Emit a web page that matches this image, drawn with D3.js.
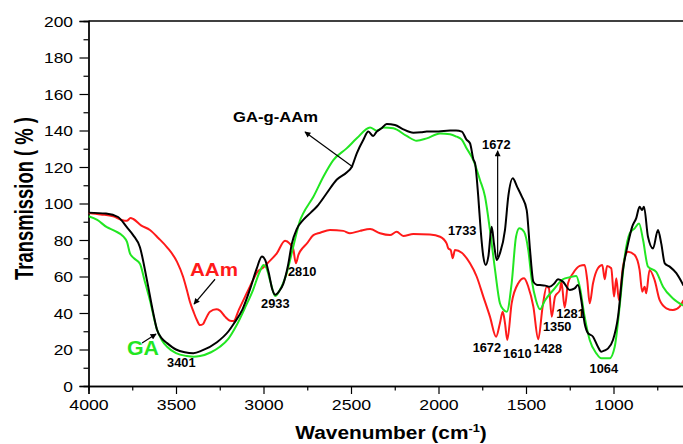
<!DOCTYPE html>
<html><head><meta charset="utf-8">
<script src="https://cdn.jsdelivr.net/npm/d3@7"></script>
<style>
html,body{margin:0;padding:0;background:#fff;}
svg{display:block;font-family:"Liberation Sans",Arial,sans-serif;}
</style></head>
<body>
<svg id="chart" width="683" height="444"></svg>
<script>
// ---------- data ----------
const xTicksMajor = [4000, 3500, 3000, 2500, 2000, 1500, 1000];
const xTicksMinor = [3750, 3250, 2750, 2250, 1750, 1250, 750];
const yTicksMajor = [0, 20, 40, 60, 80, 100, 120, 140, 160, 180, 200];
const yTicksMinor = [10, 30, 50, 70, 90, 110, 130, 150, 170, 190];

// GA-g-AAm (black)
const gaggWn = [4000,3900,3831,3781,3745,3706,3666,3630,3609,3580,3551,3500,3450,3401,3350,3266,3200,3171,3120,3077,3040,3009,2990,2970,2950,2933,2910,2887,2860,2838,2810,2773,2730,2696,2639,2582,2525,2496,2467,2430,2401,2373,2353,2325,2296,2249,2201,2144,2100,2067,2000,1934,1900,1867,1840,1820,1800,1791,1773,1759,1744,1730,1715,1696,1683,1667,1649,1620,1601,1576,1550,1525,1496,1477,1458,1440,1420,1390,1365,1340,1317,1289,1250,1222,1203,1184,1165,1146,1117,1089,1070,1050,1031,1003,974,946,917,893,870,851,837,826,803,774,746,727,707,679,641,600];
const gaggT  = [95,94.5,92.6,87,82.7,76,58,40,31,26,23.5,20,18.5,18,19.5,24,30,34,42,53,64,71,69,62,53,50,52,56,66,78,86,91,95,98.2,105.6,113,117,120,127.5,134.8,139.4,137,139.4,141.2,143.6,143,140.6,138.8,139,139.4,139.5,140,140,139.4,135,133,124,122,104,85.5,71,66.3,71,87.3,78,69,72.7,85.5,104,113.8,109,104,96.4,74.5,57.2,55.5,55.3,55,54.4,56,58.5,57.2,52.6,53.5,55.3,47,34.4,29,27,21.5,18.8,19.5,20.6,25.2,38,63.6,78,87.3,92,98.2,96.4,98.2,81.8,75.4,85.5,78,67.2,65.4,61.8,55];

// GA (green)
const gaWn = [4000,3950,3895,3850,3800,3780,3763,3740,3706,3680,3649,3609,3580,3551,3500,3438,3400,3363,3300,3249,3200,3153,3100,3060,3020,3000,2985,2960,2933,2910,2867,2830,2790,2773,2715,2658,2601,2525,2467,2391,2353,2315,2258,2182,2125,2067,1991,1934,1896,1867,1839,1801,1763,1734,1706,1677,1649,1630,1610,1582,1557,1538,1511,1487,1467,1443,1420,1391,1344,1289,1250,1213,1193,1165,1136,1098,1070,1022,993,965,936,907,879,854,831,803,756,717,660,600];
const gaT  = [93,91,87,85,81.8,79,72.7,70,67,58,47,31,25,21.5,18,16.4,16,16.4,18.5,21.5,26,33.4,44,52.6,63,66.3,65,57,49.3,52,62,76.3,91,94.6,103.7,114.7,123.8,130.2,135.7,141.7,139.9,141.7,141.2,137,134.4,135.7,138.4,138,136.6,135,130.2,123.8,112.9,103.7,85.5,63.6,45.3,42,40.7,56.3,81.8,86.4,84.5,74.5,58,47,42,47,52.6,58.5,59.6,60.3,54.4,38,25.2,17.9,15.2,15.2,21.5,43.5,70.8,83.7,86.4,89.1,80,65.4,62.6,54.4,48,44];

// AAm (red)
const aamWn = [4000,3930,3859,3810,3781,3760,3744,3700,3649,3600,3551,3494,3460,3438,3420,3400,3380,3363,3345,3334,3306,3270,3249,3220,3191,3171,3140,3096,3060,3039,3000,2980,2924,2877,2850,2830,2815,2800,2773,2753,2715,2676,2620,2544,2506,2449,2391,2334,2277,2239,2201,2144,2049,1991,1953,1944,1930,1919,1906,1867,1820,1782,1744,1706,1671,1649,1633,1620,1607,1582,1544,1511,1487,1458,1430,1405,1382,1369,1353,1334,1306,1298,1279,1260,1231,1193,1165,1150,1136,1117,1089,1064,1050,1037,1013,997,984,969,946,917,879,851,836,822,813,794,765,736,698,660,622,600];
const aamT  = [94.8,94,93,91,90.5,92,91.5,88,85.5,81,76,68,60,52.6,46,40.7,36,33.4,34,36,40.7,42,41.3,38,35.8,35.6,42,50.8,58,62,65,67,72.7,79.6,78,75,67.3,72,76,78,82.7,84,85.5,85,83.7,85,86,83.7,82.7,84.5,82.2,83.3,83,81.8,78,75.4,74.5,70,74.5,73,67.2,60,49,38,27,34.4,40.7,34.4,25.2,45.3,56.3,59,54.4,43.5,25.6,43.5,54.4,53.5,38,49,52.6,57.2,43,56.3,61.8,65.8,66.3,58,45.3,56.3,64.5,66.3,58.5,65.8,64.5,49,59,47,65.4,73.6,71.8,63.6,51.7,54.4,50.8,63.6,58,47,42.6,41.6,43.5,47];

// annotation texts (anchored in data units: wavenumber, transmission)
const peakLabels = ["3401","2933","2810","1733","1672","1672","1610","1428","1350","1281","1064"];
const peakLabelWn = [3551,3014,2860,1946,1751,1805,1631,1457,1403,1327,1137];
const peakLabelT  = [10.4,42.7,60.3,82.7,129.9,18.5,15.5,17.9,30.1,37.1,7.0];

const seriesNames = ["GA-g-AAm","AAm","GA"];
const seriesColors = ["#000000","#ff1a1a","#22e622"];
const nameWn = [3174,3420,3780];
const nameT  = [144.8,60.3,17];
const nameSize = [15,18.5,20];
const nameLen  = [85,48,32];

// arrows: from (wn,T) to (wn,T), head at "to"
const arrowFromWn = [2489,3277,3694,1662];
const arrowFromT  = [120,58.5,23.6,70.4];
const arrowToWn   = [2763,3397,3614,1662];
const arrowToT    = [139.2,44.9,28.5,128.9];

// ---------- layout ----------
const svg = d3.select("#chart");
const x = d3.scaleLinear().domain([4000, 600]).range([88.5, 683.5]);
const y = d3.scaleLinear().domain([0, 200]).range([386, 21]);

svg.append("defs").append("clipPath").attr("id","plotclip")
  .append("rect").attr("x", x(4000)).attr("y", y(200))
  .attr("width", x(600)-x(4000)).attr("height", y(0)-y(200));

const defs = svg.select("defs");
defs.append("marker").attr("id","arrowhead")
  .attr("viewBox","0 0 10 10").attr("refX",9).attr("refY",5)
  .attr("markerUnits","userSpaceOnUse").attr("markerWidth",7).attr("markerHeight",6)
  .attr("orient","auto")
  .append("path").attr("d","M0,0 L10,5 L0,10 Z").attr("fill","#000");

// top border
svg.append("line").attr("x1", x(4000)).attr("x2", x(600))
  .attr("y1", y(200)).attr("y2", y(200))
  .attr("stroke","#000").attr("stroke-width",1.3);

// axes
const xAxis = svg.append("g").attr("transform",`translate(0,${y(0)})`)
  .call(d3.axisBottom(x).tickValues(xTicksMajor).tickFormat(d3.format("d")).tickSizeOuter(0).tickSize(8).tickPadding(5));
const xAxisMinor = svg.append("g").attr("transform",`translate(0,${y(0)})`)
  .call(d3.axisBottom(x).tickValues(xTicksMinor).tickFormat("").tickSizeOuter(0).tickSize(4.5));
const yAxis = svg.append("g").attr("transform",`translate(${x(4000)},0)`)
  .call(d3.axisLeft(y).tickValues(yTicksMajor).tickFormat(d3.format("d")).tickSizeOuter(0).tickSize(9));
const yAxisMinor = svg.append("g").attr("transform",`translate(${x(4000)},0)`)
  .call(d3.axisLeft(y).tickValues(yTicksMinor).tickFormat("").tickSizeOuter(0).tickSize(5));

[xAxis,xAxisMinor,yAxis,yAxisMinor].forEach(g=>{
  g.selectAll(".domain").attr("stroke","#000").attr("stroke-width",1.3);
  g.selectAll(".tick line").attr("stroke","#000").attr("stroke-width",1.2);
});
xAxis.selectAll(".tick text").attr("font-size",15).attr("fill","#000")
  .attr("font-family","Liberation Sans, Arial, sans-serif")
  .attr("transform","scale(1.18,1)");
yAxis.selectAll(".tick text").attr("font-size",15).attr("fill","#000")
  .attr("font-family","Liberation Sans, Arial, sans-serif")
  .attr("x",0).attr("dy","0.35em")
  .attr("transform","translate(-15.5,0) scale(1.16,1)");

// axis titles
const xt = svg.append("g").attr("transform",`translate(391,439) scale(1.16,1)`)
  .append("text").attr("text-anchor","middle").attr("font-weight","bold")
  .attr("font-size",18).attr("fill","#000");
xt.append("tspan").text("Wavenumber (cm");
xt.append("tspan").attr("font-size",11).attr("dy",-7).text("-1");
xt.append("tspan").attr("dy",7).text(")");

svg.append("g").attr("transform","translate(33,198.5) rotate(-90) scale(0.71,1)")
  .append("text").attr("text-anchor","middle").attr("font-weight","bold")
  .attr("font-size",26).attr("fill","#000").text("Transmission ( % )");

// curves
const line = d3.line().x(d=>x(d[0])).y(d=>y(d[1])).curve(d3.curveMonotoneX);
const plot = svg.append("g").attr("clip-path","url(#plotclip)");
const series = [
  {wn: aamWn, t: aamT, c: seriesColors[1]},
  {wn: gaWn, t: gaT, c: seriesColors[2]},
  {wn: gaggWn, t: gaggT, c: seriesColors[0]}
];
series.forEach(s=>{
  plot.append("path").datum(d3.zip(s.wn, s.t))
    .attr("d", line).attr("fill","none").attr("stroke", s.c)
    .attr("stroke-width",2).attr("stroke-linejoin","round");
});

// arrows
arrowFromWn.forEach((w,i)=>{
  svg.append("line")
    .attr("x1", x(w)).attr("y1", y(arrowFromT[i]))
    .attr("x2", x(arrowToWn[i])).attr("y2", y(arrowToT[i]))
    .attr("stroke","#000").attr("stroke-width",1.2)
    .attr("marker-end","url(#arrowhead)");
});

// series names
seriesNames.forEach((n,i)=>{
  svg.append("text").attr("x", x(nameWn[i])).attr("y", y(nameT[i]))
    .attr("font-weight","bold").attr("font-size", nameSize[i])
    .attr("fill", seriesColors[i])
    .attr("textLength", nameLen[i]).attr("lengthAdjust","spacingAndGlyphs")
    .text(n);
});

// peak labels
peakLabels.forEach((p,i)=>{
  svg.append("text").attr("x", x(peakLabelWn[i])).attr("y", y(peakLabelT[i]))
    .attr("font-weight","bold").attr("font-size",12.5).attr("fill","#000")
    .attr("textLength",28.5).attr("lengthAdjust","spacingAndGlyphs")
    .text(p);
});
</script>
</body></html>
